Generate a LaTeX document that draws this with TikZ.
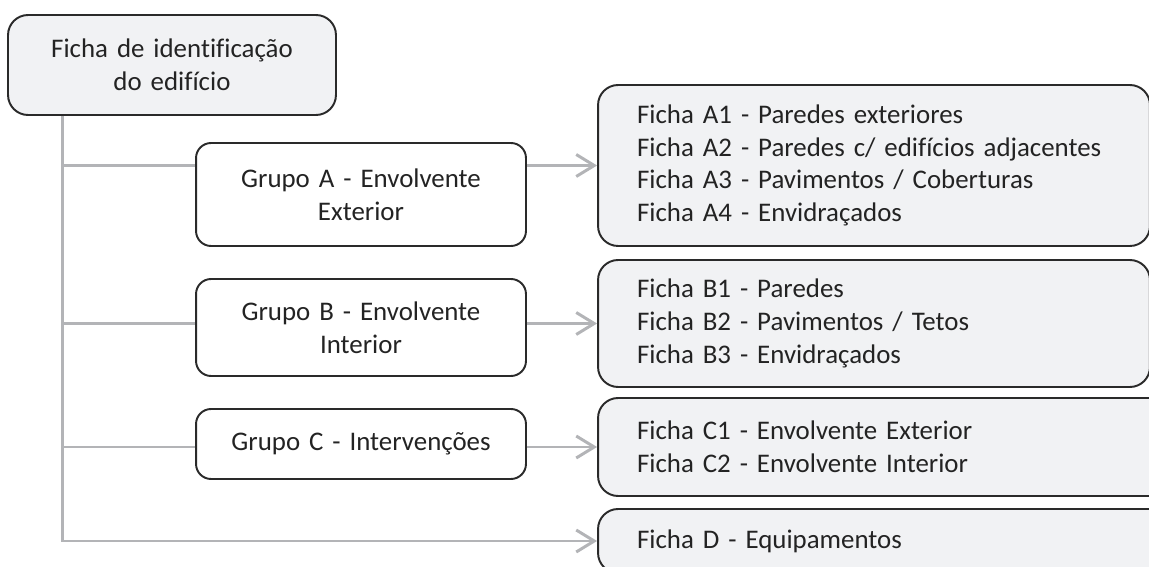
\documentclass[tikz,border=0pt]{standalone}
\usepackage{fontspec}
\setmainfont{Carlito}[Ligatures=NoCommon]
\usepackage{tikz}
\usetikzlibrary{positioning,arrows.meta,calc}
\usepackage{xcolor}
\definecolor{ink}{HTML}{232323}
\definecolor{edge}{HTML}{2A2A2A}
\definecolor{paper}{HTML}{F1F2F4}
\definecolor{wire}{HTML}{B3B4B7}

\tikzset{
  box/.style={draw=edge, line width=1.1pt, rounded corners=0.4cm, text=ink, align=center, inner sep=0pt},
  grupo/.style={box, fill=white, rounded corners=0.3cm, minimum width=6.6cm, text width=6.2cm},
  ficha/.style={box, fill=paper, align=left, inner xsep=0.78cm},
  link/.style={draw=wire, line width=1.7pt},
  arrow/.style={link, -{Straight Barb[length=3.6mm, width=4.4mm, line width=1.7pt]}},
}

\begin{document}
\begin{tikzpicture}[x=0.02cm, y=-0.02cm, font=\fontsize{15.3}{18.7}\selectfont]
    \useasboundingbox (0,0) rectangle (1149,567);
    \clip (0,0) rectangle (1149,567);

    % root card
    \node[box, fill=paper, minimum width=6.56cm, minimum height=2cm, text width=6.2cm] (edificio) at (172,65)
      {Ficha de identificação\\do edifício};

    % groups
    \node[grupo, minimum height=2.06cm] (grupoA) at (361,194.5) {Grupo A - Envolvente\\Exterior};
    \node[grupo, minimum height=1.94cm] (grupoB) at (361,327.5) {Grupo B - Envolvente\\Interior};
    \node[grupo, minimum height=1.4cm]  (grupoC) at (361,444)   {Grupo C - Intervenções};

    % sheets per group
    \node[ficha, minimum width=11.04cm, text width=9.48cm, minimum height=3.22cm] (fichasA) at (874,165.5)
      {Ficha A1 - Paredes exteriores\\Ficha A2 - Paredes c/ edifícios adjacentes\\Ficha A3 - Pavimentos / Coberturas\\Ficha A4 - Envidraçados};
    \node[ficha, minimum width=11.04cm, text width=9.48cm, minimum height=2.54cm] (fichasB) at (874,323.5)
      {Ficha B1 - Paredes\\Ficha B2 - Pavimentos / Tetos\\Ficha B3 - Envidraçados};
    \node[ficha, minimum width=11.44cm, text width=9.88cm, minimum height=1.96cm] (fichasC) at (884,447)
      {Ficha C1 - Envolvente Exterior\\Ficha C2 - Envolvente Interior};
    \node[ficha, minimum width=11.44cm, text width=9.88cm, minimum height=1.28cm] (fichaD) at (884,541)
      {Ficha D - Equipamentos};

    % trunk and branches
    \coordinate (tronco) at ($(edificio.south west)+(55,0)$);
    \draw[arrow] (tronco) |- (fichaD.west);
    \draw[link] (tronco |- fichasA.west) -- (grupoA.west |- fichasA.west);
    \draw[link] (tronco |- fichasB.west) -- (grupoB.west |- fichasB.west);
    \draw[link] (tronco |- fichasC.west) -- (grupoC.west |- fichasC.west);
    \draw[arrow] (grupoA.east |- fichasA.west) -- (fichasA.west);
    \draw[arrow] (grupoB.east |- fichasB.west) -- (fichasB.west);
    \draw[arrow] (grupoC.east |- fichasC.west) -- (fichasC.west);
\end{tikzpicture}
\end{document}
